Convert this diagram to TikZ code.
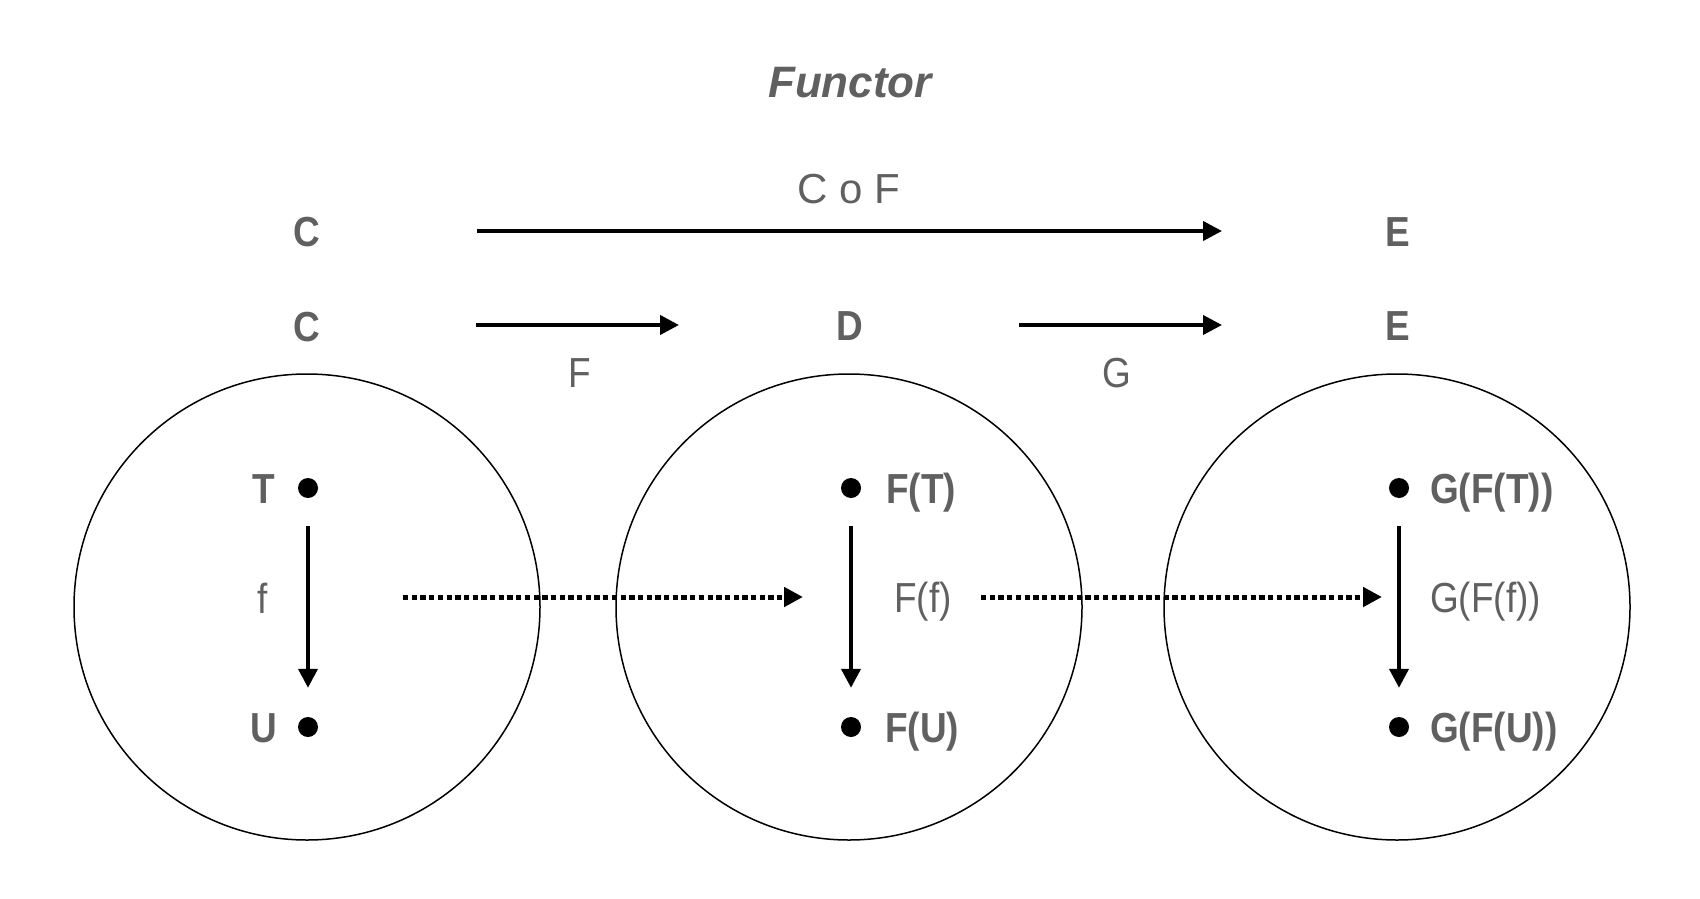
\documentclass[tikz,border=0pt]{standalone}
\usepackage{fontspec}
\setmainfont{Liberation Sans}
\newfontfamily\labfont[FakeStretch=0.88]{Liberation Sans}
\usetikzlibrary{arrows.meta}
\definecolor{txtgray}{RGB}{96,96,96}
\tikzset{
  lab/.style={inner sep=0pt, text=txtgray, font=\labfont\bfseries\fontsize{42}{50}\selectfont},
  rlab/.style={inner sep=0pt, text=txtgray, font=\labfont\fontsize{42}{50}\selectfont},
  dotn/.style={circle, fill=black, inner sep=0pt, minimum size=20pt},
  category/.style={circle, draw=black, line width=1.5pt, minimum size=466pt, inner sep=0pt},
  arr/.style={line width=4pt, -{Triangle[length=19pt,width=19pt]}},
  dotarr/.style={line width=5pt, dash pattern=on 5.3pt off 3.4pt, -{Triangle[length=19pt,width=19pt]}}
}
\begin{document}
\begin{tikzpicture}[x=1pt,y=-1pt]
\useasboundingbox (0,0) rectangle (1700,899);
\fill[white] (0,0) rectangle (1700,899);
% title
\node[anchor=base, inner sep=0pt, text=txtgray, font=\bfseries\itshape\fontsize{44}{52}\selectfont] (title) at (850,97) {Functor};
\node[anchor=base, inner sep=0pt, text=txtgray, font=\fontsize{42}{50}\selectfont] (comp) at (849,203) {C o F};
% top row
\node[lab, anchor=base] (C1) at (307,246) {C};
\node[lab, anchor=base] (E1) at (1398,246) {E};
\coordinate (a0s) at (477,231);
\coordinate (a0e) at (1222,231);
\draw[arr] (a0s) -- (a0e);
% second row
\node[lab, anchor=base] (C2) at (307,341) {C};
\node[lab, anchor=base] (D2) at (850,340) {D};
\node[lab, anchor=base] (E2) at (1398,340) {E};
\coordinate (a1s) at (476,325);
\coordinate (a1e) at (679,325);
\coordinate (a2s) at (1019,325);
\coordinate (a2e) at (1222,325);
\draw[arr] (a1s) -- (a1e);
\draw[arr] (a2s) -- (a2e);
\node[rlab, anchor=base] (Flab) at (580,387) {F};
\node[rlab, anchor=base] (Glab) at (1117,387) {G};
% circles
\node[category] (cat1) at (307,607) {};
\node[category] (cat2) at (849,607) {};
\node[category] (cat3) at (1397,607) {};
% left category
\node[dotn] (t1) at (308,488) {};
\node[dotn] (u1) at (308,727) {};
\node[lab, anchor=base] (T) at (264,503) {T};
\node[lab, anchor=base] (U) at (264,742) {U};
\node[rlab, anchor=base] (f1) at (263,613) {f};
\draw[arr, shorten <=28pt, shorten >=29pt] (t1) -- (u1);
% middle category
\node[dotn] (t2) at (851,488) {};
\node[dotn] (u2) at (851,727) {};
\node[lab, anchor=base west] (FT) at (886,503) {F(T)};
\node[lab, anchor=base west] (FU) at (885,742) {F(U)};
\node[rlab, anchor=base west] (Ff) at (894,612) {F(f)};
\draw[arr, shorten <=28pt, shorten >=29pt] (t2) -- (u2);
% right category
\node[dotn] (t3) at (1399,488) {};
\node[dotn] (u3) at (1399,727) {};
\node[lab, anchor=base west] (GFT) at (1430,503) {G(F(T))};
\node[lab, anchor=base west] (GFU) at (1430,742) {G(F(U))};
\node[rlab, anchor=base west] (GFf) at (1430,612) {G(F(f))};
\draw[arr, shorten <=28pt, shorten >=29pt] (t3) -- (u3);
% dotted functor arrows
\coordinate (d1s) at (403,597);
\coordinate (d1e) at (803,597);
\coordinate (d2s) at (981,597);
\coordinate (d2e) at (1382,597);
\draw[dotarr] (d1s) -- (d1e);
\draw[dotarr] (d2s) -- (d2e);
\end{tikzpicture}
\end{document}
